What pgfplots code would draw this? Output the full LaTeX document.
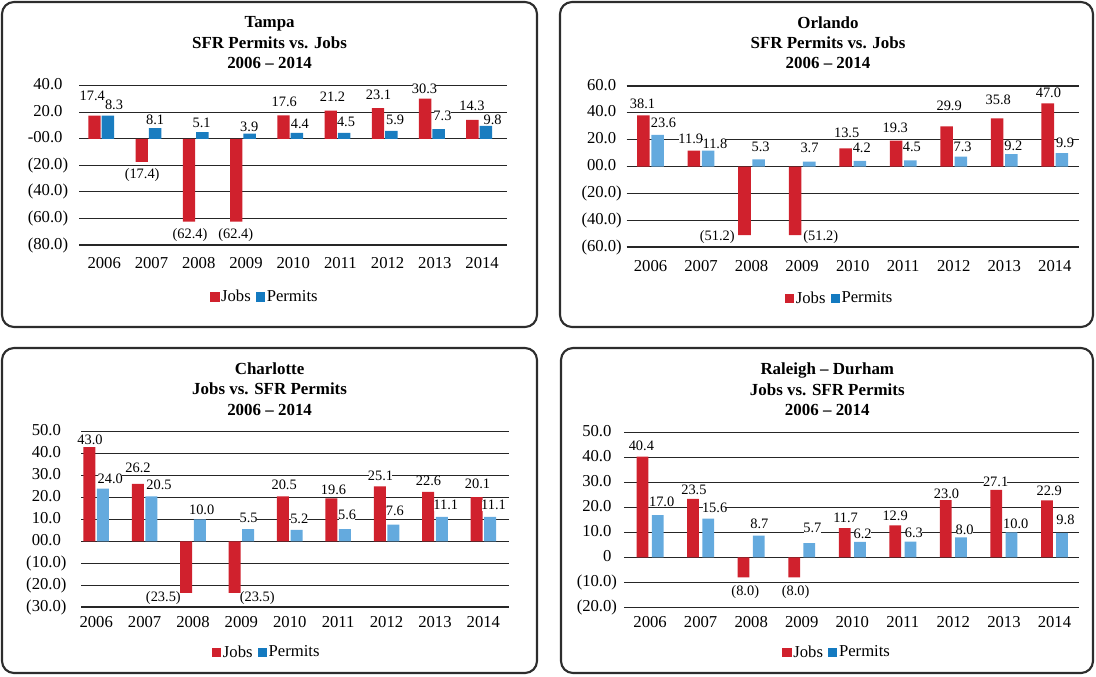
\documentclass[border=0pt]{standalone}
\usepackage{fontspec}
\setmainfont{Liberation Serif}
\usepackage{pgfplots}
\usepackage{pgfplotstable}
\pgfplotsset{compat=1.18}

\definecolor{jobred}{RGB}{208,33,45}
\definecolor{tpblue}{RGB}{26,125,192}
\definecolor{ltblue}{RGB}{100,170,222}
\definecolor{legblue}{RGB}{20,122,192}
\definecolor{framec}{RGB}{45,45,45}

\newcommand\tickfont{\fontsize{12.5}{14}\selectfont}
\newcommand\labfont{\fontsize{10.8}{12}\selectfont}
\newcommand\titlefont{\fontsize{12.7}{15.2}\selectfont\bfseries}

% jdx/jdy, pdx/pdy: label offsets from bar end, in pixels of the reference
\pgfplotstableread{
x jobs permits jlab plab jdx jdy pdx pdy
0 17.4 17.4 17.4 8.3 -2.2 19.5 6.1 11
1 -17.4 8.1 (17.4) 8.1 0.4 -13.3 0 8.5
2 -62.4 5.1 (62.4) 5.1 1 -12.9 -0.8 9.2
3 -62.4 3.9 (62.4) 3.9 -0.5 -12.9 -0.4 6.8
4 17.6 4.4 17.6 4.4 0.8 13.6 3 9.2
5 21.2 4.5 21.2 4.5 1.7 13.9 1.9 11
6 23.1 5.9 23.1 5.9 0.5 13.3 3.8 11.5
7 30.3 7.3 30.3 7.3 -0.6 9.8 3.9 12.9
8 14.3 9.8 14.3 9.8 -0.5 13.6 6.8 6.3
}\tampa

\pgfplotstableread{
x jobs permits jlab plab jdx jdy pdx pdy
0 38.1 23.6 38.1 23.6 -0.9 11.6 5.9 12
1 11.9 11.8 11.9 11.8 -3.2 11.4 6.8 6.6
2 -51.2 5.3 (51.2) 5.3 -27.2 -1.9 1.9 12.9
3 -51.2 3.7 (51.2) 3.7 25.7 -1.9 0.3 13.4
4 13.5 4.2 13.5 4.2 1.1 15.3 2 12.8
5 19.3 4.5 19.3 4.5 -0.8 13.1 1.5 13.4
6 29.9 7.3 29.9 7.3 2.5 20.6 1.8 9.9
7 35.8 9.2 35.8 9.2 1 18.7 2 8.4
8 47.0 9.9 47.0 9.9 0.7 10.9 3.1 10.7
}\orlando

\pgfplotstableread{
x jobs permits jlab plab jdx jdy pdx pdy
0 43.0 24.0 43.0 24.0 0.7 7.1 7.3 10.1
1 26.2 20.5 26.2 20.5 0.2 15.9 7.6 11.1
2 -23.5 10.0 (23.5) 10.0 -22.8 -4.8 1.9 9.4
3 -23.5 5.5 (23.5) 5.5 22.6 -4.8 0.5 11.7
4 20.5 5.2 20.5 5.2 1.2 11.1 2.7 10.6
5 19.6 5.6 19.6 5.6 2.2 8 2.2 13.7
6 25.1 7.6 25.1 7.6 0.8 10.3 1.5 13.6
7 22.6 11.1 22.6 11.1 0.4 10.8 4 11.7
8 20.1 11.1 20.1 11.1 1 13.7 3.4 11.7
}\charlotte

\pgfplotstableread{
x jobs permits jlab plab jdx jdy pdx pdy
0 40.4 17.0 40.4 17.0 -1.1 10.6 4 13.2
1 23.5 15.6 23.5 15.6 0.9 8.7 6.4 11.1
2 -8.0 8.7 (8.0) 8.7 1.7 -15 0.6 11.6
3 -8.0 5.7 (8.0) 5.7 1.5 -15 3 15.4
4 11.7 6.2 11.7 6.2 0.9 10.8 2.7 8.5
5 12.9 6.3 12.9 6.3 -0.1 9.4 3.4 8.9
6 23.0 8.0 23.0 8.0 0.8 6.7 3.6 8.1
7 27.1 10.0 27.1 10.0 -0.7 8 4.3 8.4
8 22.9 9.8 22.9 9.8 2.3 9.5 3.4 12.9
}\raleigh

\pgfplotsset{
  panel/.style={
    scale only axis, anchor=south west, clip=false,
    axis line style={draw=none}, tick style={draw=none}, major tick length=0pt,
    ymajorgrids, grid style={black!85, line width=0.8pt},
    xtick={0,1,2,3,4,5,6,7,8},
    xticklabels={2006,2007,2008,2009,2010,2011,2012,2013,2014},
    ticklabel style={font=\tickfont},
    yticklabel style={anchor=east, inner sep=0pt},
    xticklabel style={anchor=north, inner sep=0pt},
    legend columns=2,
    legend style={draw=none, fill=none, inner sep=0pt, anchor=center, font=\tickfont,
      nodes={inner sep=1.2pt},
      /tikz/every even column/.append style={column sep=2.6pt}},
    legend image code/.code={\fill[##1,draw=none] (0pt,-3.5pt) rectangle (7pt,3.5pt);},
  },
  lab/.style={forget plot, black, only marks, mark=*, mark size=0pt,
    mark options={draw=none,fill=none},
    point meta=explicit symbolic,
    nodes near coords={\pgfplotspointmeta},
    every node near coord/.append style={font=\labfont, text=black, fill=white,
      inner xsep=-0.6pt, inner ysep=0.3pt, anchor=center}},
}

\begin{document}
\begin{tikzpicture}
\begin{scope}[x=0.75pt,y=-0.75pt]
  \useasboundingbox (0,0) rectangle (1096,676);
  \draw[framec, line width=1.6pt, rounded corners=9pt] (2,2) rectangle (537,327);
  \draw[framec, line width=1.6pt, rounded corners=9pt] (560,2) rectangle (1093,327);
  \draw[framec, line width=1.6pt, rounded corners=9pt] (2,348) rectangle (537,673);
  \draw[framec, line width=1.6pt, rounded corners=9pt] (561,348) rectangle (1093,673);
  \node[align=center, font=\titlefont, inner sep=0pt] at (269.6,42.7) {Tampa\\SFR Permits vs. Jobs\\2006 – 2014};
  \node[align=center, font=\titlefont, inner sep=0pt] at (828,42.7) {Orlando\\SFR Permits vs. Jobs\\2006 – 2014};
  \node[align=center, font=\titlefont, inner sep=0pt] at (269.6,389) {Charlotte\\Jobs vs. SFR Permits\\2006 – 2014};
  \node[align=center, font=\titlefont, inner sep=0pt] at (827.3,389.3) {Raleigh – Durham\\Jobs vs. SFR Permits\\2006 – 2014};
\end{scope}

% ---------------- Tampa
\begin{axis}[panel, at={(59.25pt,-183.75pt)}, width=321pt, height=119.475pt,
  xmin=-0.47, xmax=8.59, ymin=-80, ymax=40,
  ytick={-80,-60,-40,-20,0,20,40},
  yticklabels={{(80.0)},{(60.0)},{(40.0)},{(20.0)},{-00.0\phantom{)}},{20.0\phantom{)}},{40.0\phantom{)}}},
  yticklabel style={xshift=-8pt},
  xticklabel style={yshift=-9.4pt, xshift=2.25pt},
  legend style={at={(0.434,-0.3264)}}]
  \addlegendimage{fill=jobred}\addlegendentry{Jobs}
  \addlegendimage{fill=legblue}\addlegendentry{Permits}
  \addplot[lab] table[x expr={\thisrow{x}+(\thisrow{jdx}-6.7)/47.25},
    y expr={\thisrow{jobs}+\thisrow{jdy}/1.3275}, meta=jlab]{\tampa};
  \addplot[lab] table[x expr={\thisrow{x}+(\thisrow{pdx}+6.7)/47.25},
    y expr={\thisrow{permits}+\thisrow{pdy}/1.3275}, meta=plab]{\tampa};
  \addplot[forget plot, ybar, bar width=9.3pt, bar shift=-5.025pt, fill=jobred, draw=none] table[x=x,y=jobs]{\tampa};
  \addplot[forget plot, ybar, bar width=9.3pt, bar shift=5.025pt, fill=tpblue, draw=none] table[x=x,y=permits]{\tampa};
\end{axis}

% ---------------- Orlando
\begin{axis}[panel, at={(470.025pt,-185.25pt)}, width=339.225pt, height=120.75pt,
  xmin=-0.471, xmax=8.478, ymin=-60, ymax=60,
  ytick={-60,-40,-20,0,20,40,60},
  yticklabels={{(60.0)},{(40.0)},{(20.0)},{00.0\phantom{)}},{20.0\phantom{)}},{40.0\phantom{)}},{60.0\phantom{)}}},
  yticklabel style={xshift=-3.5pt},
  xticklabel style={yshift=-10.1pt},
  legend style={at={(0.4705,-0.3186)}}]
  \addlegendimage{fill=jobred}\addlegendentry{Jobs}
  \addlegendimage{fill=legblue}\addlegendentry{Permits}
  \addplot[lab] table[x expr={\thisrow{x}+(\thisrow{jdx}-7.1)/50.54},
    y expr={\thisrow{jobs}+\thisrow{jdy}/1.3417}, meta=jlab]{\orlando};
  \addplot[lab] table[x expr={\thisrow{x}+(\thisrow{pdx}+7.1)/50.54},
    y expr={\thisrow{permits}+\thisrow{pdy}/1.3417}, meta=plab]{\orlando};
  \addplot[forget plot, ybar, bar width=9.4pt, bar shift=-5.325pt, fill=jobred, draw=none] table[x=x,y=jobs]{\orlando};
  \addplot[forget plot, ybar, bar width=9.4pt, bar shift=5.325pt, fill=ltblue, draw=none] table[x=x,y=permits]{\orlando};
\end{axis}

% ---------------- Charlotte
\begin{axis}[panel, at={(60.75pt,-455.25pt)}, width=321pt, height=131.475pt,
  xmin=-0.314, xmax=8.53, ymin=-30, ymax=50,
  ytick={-30,-20,-10,0,10,20,30,40,50},
  yticklabels={{(30.0)},{(20.0)},{(10.0)},{00.0\phantom{)}},{10.0\phantom{)}},{20.0\phantom{)}},{30.0\phantom{)}},{40.0\phantom{)}},{50.0\phantom{)}}},
  yticklabel style={xshift=-10.7pt},
  xticklabel style={yshift=-7.1pt},
  legend style={at={(0.4336,-0.2584)}}]
  \addlegendimage{fill=jobred}\addlegendentry{Jobs}
  \addlegendimage{fill=legblue}\addlegendentry{Permits}
  \addplot[lab] table[x expr={\thisrow{x}+(\thisrow{jdx}-6.8)/48.4},
    y expr={\thisrow{jobs}+\thisrow{jdy}/2.191}, meta=jlab]{\charlotte};
  \addplot[lab] table[x expr={\thisrow{x}+(\thisrow{pdx}+6.8)/48.4},
    y expr={\thisrow{permits}+\thisrow{pdy}/2.191}, meta=plab]{\charlotte};
  \addplot[forget plot, ybar, bar width=9pt, bar shift=-5.1pt, fill=jobred, draw=none] table[x=x,y=jobs]{\charlotte};
  \addplot[forget plot, ybar, bar width=9pt, bar shift=5.1pt, fill=ltblue, draw=none] table[x=x,y=permits]{\charlotte};
\end{axis}

% ---------------- Raleigh - Durham
\begin{axis}[panel, at={(468.225pt,-455.475pt)}, width=341.025pt, height=130.95pt,
  xmin=-0.51, xmax=8.485, ymin=-20, ymax=50,
  ytick={-20,-10,0,10,20,30,40,50},
  yticklabels={{(20.0)},{(10.0)},{0\phantom{)}},{10.0\phantom{)}},{20.0\phantom{)}},{30.0\phantom{)}},{40.0\phantom{)}},{50.0\phantom{)}}},
  yticklabel style={xshift=-5.25pt},
  xticklabel style={yshift=-6.7pt},
  legend style={at={(0.4678,-0.2577)}}]
  \addlegendimage{fill=jobred}\addlegendentry{Jobs}
  \addlegendimage{fill=legblue}\addlegendentry{Permits}
  \addplot[lab] table[x expr={\thisrow{x}+(\thisrow{jdx}-7.6)/50.55},
    y expr={\thisrow{jobs}+\thisrow{jdy}/2.493}, meta=jlab]{\raleigh};
  \addplot[lab] table[x expr={\thisrow{x}+(\thisrow{pdx}+7.6)/50.55},
    y expr={\thisrow{permits}+\thisrow{pdy}/2.493}, meta=plab]{\raleigh};
  \addplot[forget plot, ybar, bar width=8.8pt, bar shift=-5.7pt, fill=jobred, draw=none] table[x=x,y=jobs]{\raleigh};
  \addplot[forget plot, ybar, bar width=8.8pt, bar shift=5.7pt, fill=ltblue, draw=none] table[x=x,y=permits]{\raleigh};
\end{axis}
\end{tikzpicture}
\end{document}
